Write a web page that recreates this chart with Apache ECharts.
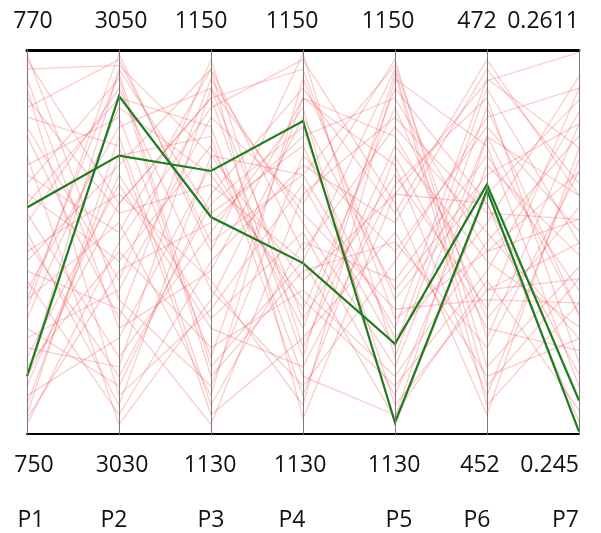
<!DOCTYPE html>
<html><head><meta charset="utf-8">
<script src="https://cdn.jsdelivr.net/npm/echarts@6/dist/echarts.min.js"></script>
<style>html,body{margin:0;padding:0;background:#fff}#c{width:601px;height:533px}</style>
</head><body><div id="c"></div>
<script>
const names = ['P1', 'P2', 'P3', 'P4', 'P5', 'P6', 'P7'];
const axisMin = [750, 3030, 1130, 1130, 1130, 452, 0.245];
const axisMax = [770, 3050, 1150, 1150, 1150, 472, 0.2611];
const minLabels = ['750', '3030', '1130', '1130', '1130', '452', '0.245'];
const maxLabels = ['770', '3050', '1150', '1150', '1150', '472', '0.2611'];

// background (red) solutions, one array per axis
const redP1 = [769.0,769.5,767.0,765.5,764.0,762.5,761.0,760.0,759.0,758.0,757.0,756.0,755.0,754.0,753.0,752.0,751.0,750.5,768.0,766.0,763.0,761.5,759.5,757.5,755.5,753.5,751.5,769.8,767.5,764.5,762.0,758.5,756.5,754.5,752.5,750.8,766.5,760.5,763.5,768.5,757.0,753.0];
const redP2 = [3049.2,3042.0,3049.5,3036.0,3046.5,3039.0,3048.0,3033.0,3044.0,3031.0,3041.0,3047.0,3037.5,3043.0,3049.0,3035.0,3045.5,3040.0,3032.0,3038.0,3048.5,3034.0,3042.5,3046.0,3032.5,3039.5,3044.5,3037.0,3041.5,3030.5,3047.5,3036.5,3049.8,3033.5,3043.5,3038.5,3045.0,3031.5,3040.5,3035.5,3048.8,3042.0];
const redP3 = [1144.5,1147.5,1140.0,1148.5,1134.0,1145.0,1137.5,1142.0,1149.0,1139.0,1132.0,1143.5,1146.5,1135.5,1141.5,1144.0,1131.5,1147.0,1136.5,1149.5,1133.0,1140.5,1138.0,1148.0,1142.5,1134.5,1145.5,1132.5,1143.0,1137.0,1146.0,1130.5,1139.5,1148.0,1136.0,1141.0,1131.0,1144.5,1149.0,1138.5,1133.5,1147.5];
const redP4 = [1138.0,1149.0,1143.5,1141.0,1147.5,1135.5,1132.5,1146.0,1139.5,1144.0,1148.5,1137.0,1142.0,1133.5,1145.0,1136.5,1140.0,1149.5,1143.0,1134.5,1138.5,1147.0,1131.5,1141.5,1148.0,1137.5,1132.0,1144.5,1139.0,1146.5,1133.0,1142.5,1149.8,1136.0,1140.5,1145.5,1135.0,1143.5,1130.8,1147.5,1139.0,1134.0];
const redP5 = [1142.5,1136.0,1149.2,1133.5,1144.0,1148.0,1139.0,1131.5,1146.0,1141.0,1137.0,1132.5,1149.5,1143.0,1135.0,1147.0,1138.0,1142.0,1134.5,1145.0,1140.0,1130.5,1148.5,1136.5,1141.5,1133.0,1144.5,1139.5,1149.0,1137.5,1131.0,1146.5,1134.0,1143.5,1132.0,1147.5,1140.5,1135.5,1142.5,1145.5,1130.8,1148.8];
const redP6 = [470.4,461.5,457.0,467.5,454.0,464.0,468.5,459.5,462.5,471.0,465.0,460.5,455.5,469.5,463.0,458.0,466.5,453.0,470.0,461.0,456.5,464.5,467.0,459.0,471.5,462.0,457.5,468.0,454.5,465.5,460.0,463.5,469.0,458.5,466.0,461.5,455.0,470.5,464.0,459.5,467.5,453.5];
const redP7 = [0.2610,0.2540,0.2580,0.2500,0.2565,0.2475,0.2595,0.2530,0.2490,0.2555,0.2465,0.2585,0.2520,0.2480,0.2600,0.2545,0.2510,0.2570,0.2530,0.2495,0.2560,0.2590,0.2470,0.2505,0.2550,0.2575,0.2485,0.2535,0.2515,0.2580,0.2460,0.2540,0.2500,0.2595,0.2525,0.2560,0.2490,0.2570,0.2455,0.2515,0.2550,0.2505];

// highlighted (green) solutions
const greenA = [761.8, 3044.5, 1143.7, 1146.3, 1130.6, 464.7, 0.2451];
const greenB = [753.0, 3047.6, 1141.3, 1138.9, 1134.7, 465.0, 0.2464];

// label nudges (px, + = right); 'R' = right-aligned to the axis
const topShift = [6, 2, -10, -11, -7, -10, 'R'];
const bottomShift = [7, 3, -1, -3, -1, -7, 'R'];
const nameShift = [4, -5, 0, -11, 4, -10, 'R'];

const redCols = [redP1, redP2, redP3, redP4, redP5, redP6, redP7];
const redData = redP1.map((_, i) => redCols.map(col => col[i]));

const LEFT = 27, RIGHT = 22, TOP = 50, BOTTOM = 99;
const FONT = { fontFamily: 'Open Sans', fontSize: 23, color: '#111' };

function labelItems(arr, shifts) {
  return arr.map((v, i) => {
    const s = shifts[i];
    if (s === 'R') return { value: v, textStyle: { align: 'right' } };
    const pad = s >= 0 ? [0, 0, 0, 2 * s] : [0, -2 * s, 0, 0];
    return { value: v, textStyle: { align: 'center', padding: pad } };
  });
}

const hiddenAxisParts = {
  axisLine: { show: true, lineStyle: { color: '#7a7a7a', width: 1 } },
  axisTick: { show: false },
  axisLabel: { show: false, formatter: () => '', color: 'rgba(0,0,0,0)' },
  splitLine: { show: false },
  nameTextStyle: { color: 'rgba(0,0,0,0)' }
};

const chart = echarts.init(document.getElementById('c'), null, { renderer: 'canvas' });
chart.setOption({
  animation: false,
  backgroundColor: '#fff',
  parallel: {
    left: LEFT, right: RIGHT, top: TOP, bottom: BOTTOM, layout: 'horizontal',
    parallelAxisDefault: Object.assign({ name: '' }, hiddenAxisParts)
  },
  parallelAxis: names.map((n, i) => Object.assign({
    dim: i, name: '', min: axisMin[i], max: axisMax[i]
  }, hiddenAxisParts)),
  grid: { left: LEFT, right: RIGHT, top: TOP, bottom: BOTTOM, containLabel: false },
  xAxis: [
    { type: 'category', position: 'top', boundaryGap: false, data: labelItems(maxLabels, topShift),
      axisLine: { onZero: false, lineStyle: { color: '#000', width: 3 } }, axisTick: { show: false },
      axisLabel: Object.assign({ interval: 0, margin: 17 }, FONT), z: 5 },
    { type: 'category', position: 'bottom', boundaryGap: false, data: labelItems(minLabels, bottomShift),
      axisLine: { onZero: false, lineStyle: { color: '#000', width: 2 } }, axisTick: { show: false },
      axisLabel: Object.assign({ interval: 0, margin: 20 }, FONT), z: 5 },
    { type: 'category', position: 'bottom', offset: 56, boundaryGap: false, data: labelItems(names, nameShift),
      axisLine: { show: false, onZero: false }, axisTick: { show: false },
      axisLabel: Object.assign({ interval: 0, margin: 19 }, FONT) }
  ],
  yAxis: { type: 'value', show: false },
  series: [
    { type: 'parallel', data: redData, silent: true,
      lineStyle: { color: '#f04848', width: 1.3, opacity: 0.28 },
      emphasis: { disabled: true } },
    { type: 'parallel', data: [greenA, greenB], silent: true,
      lineStyle: { color: '#1a7d20', width: 2.2, opacity: 1 },
      emphasis: { disabled: true } }
  ]
});
</script></body></html>
